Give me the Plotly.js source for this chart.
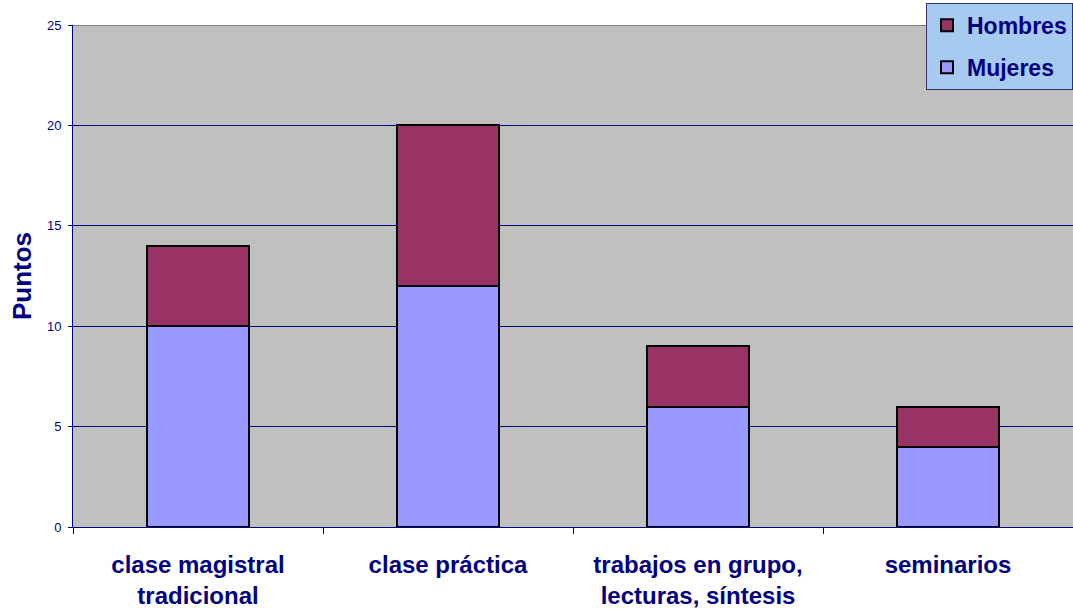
<!DOCTYPE html>
<html>
<head>
<meta charset="utf-8">
<script src="https://cdn.plot.ly/plotly-3.0.1.min.js"></script>
<style>html,body{margin:0;padding:0;background:#fff;}#chart{width:1073px;height:610px;}</style>
</head>
<body>
<div id="chart"></div>
<script>
const categories = ["clase magistral<br>tradicional", "clase práctica", "trabajos en grupo,<br>lecturas, síntesis", "seminarios"];
const mujeres = [10, 12, 6, 4];
const hombres = [4, 8, 3, 2];
const yTicks = [0, 5, 10, 15, 20, 25];

const navy = "#000080";
const font = "Arial, 'Liberation Sans', sans-serif";

const traces = [
  {type: "bar", name: "Mujeres", legendgroup: "m", legendrank: 2, x: categories, y: mujeres, width: 0.41,
   marker: {color: "#9999ff", line: {color: "#000000", width: 2}}},
  {type: "bar", name: "Hombres", legendgroup: "h", legendrank: 1, x: categories, y: hombres, width: 0.41,
   marker: {color: "#993366", line: {color: "#000000", width: 2}}}
];

const layout = {
  width: 1073, height: 610,
  margin: {l: 73, r: 0, t: 25, b: 83},
  barmode: "stack",
  paper_bgcolor: "#ffffff",
  plot_bgcolor: "#c0c0c0",
  font: {family: font, color: navy},
  xaxis: {
    type: "category",
    tickson: "boundaries",
    ticks: "outside", ticklen: 6, tickcolor: navy, tickwidth: 1,
    showline: true, linecolor: navy, linewidth: 1,
    showgrid: false,
    ticklabelstandoff: 16,
    tickfont: {size: 24, family: font, color: navy, weight: "bold"},
    range: [-0.5, 3.5]
  },
  yaxis: {
    range: [0, 25],
    tickvals: yTicks,
    ticktext: yTicks.map(String),
    ticks: "outside", ticklen: 4, tickcolor: navy,
    showline: true, linecolor: navy, linewidth: 1,
    gridcolor: navy, gridwidth: 1,
    zeroline: false,
    ticklabelstandoff: 4,
    tickfont: {size: 13, family: font, color: navy},
    title: {text: "Puntos", font: {size: 26, family: font, color: navy, weight: "bold"}, standoff: 7}
  },
  showlegend: true,
  legend: {
    x: 1, xanchor: "right", y: 1.044, yanchor: "top",
    traceorder: "grouped",
    tracegroupgap: 9,
    bgcolor: "#a6caf0", bordercolor: "#333366", borderwidth: 1,
    font: {size: 23, family: font, color: navy, weight: "bold"},
    itemwidth: 30
  },
  shapes: [
    {type: "line", xref: "paper", yref: "y", x0: 0, x1: 1, y0: 25, y1: 25,
     line: {color: "#808080", width: 2}}
  ]
};

Plotly.newPlot("chart", traces, layout, {displayModeBar: false, staticPlot: true});
</script>
</body>
</html>
